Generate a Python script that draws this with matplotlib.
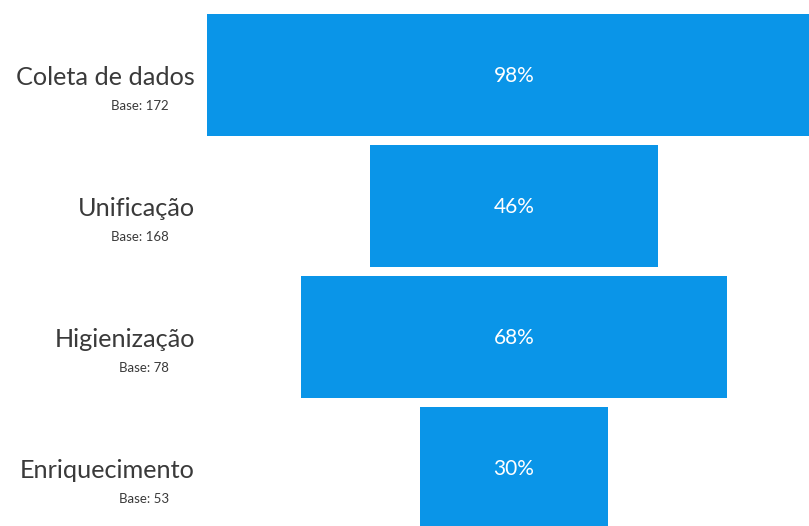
import matplotlib
matplotlib.use("Agg")
import matplotlib.pyplot as plt

stages = ["Coleta de dados", "Unificação", "Higienização", "Enriquecimento"]
bases = [172, 168, 78, 53]
values = [98, 46, 68, 30]

W, H = 809, 526
fig = plt.figure(figsize=(W / 100, H / 100), dpi=100)
ax = fig.add_axes([0, 0, 1, 1])
ax.set_axis_off()

px_per_unit = 6.27
cx = 514
pitch = 131
ax.set_xlim(-cx / px_per_unit, (W - cx) / px_per_unit)
ax.set_ylim((H - 75) / pitch, -75 / pitch)

color = "#0A95E8"
ys = list(range(len(stages)))
ax.barh(ys, values, left=[-v / 2 for v in values], height=122 / pitch,
        color=color, edgecolor="none")

font = "Lato"
label_x = (195 - cx) / px_per_unit
base_x = (169 - cx) / px_per_unit
for y, s, b, v in zip(ys, stages, bases, values):
    ax.text(0, y + 7.5 / pitch, f"{v}%", color="white", fontsize=15, ha="center",
            va="baseline", family=font)
    ax.text(label_x, y + 10 / pitch, s, color="#3a3a3a", fontsize=18.2, ha="right",
            va="baseline", family=font)
    ax.text(base_x, y + 35.5 / pitch, f"Base: {b}", color="#3a3a3a", fontsize=9.5,
            ha="right", va="baseline", family=font)

fig.savefig("out.png", dpi=100)
